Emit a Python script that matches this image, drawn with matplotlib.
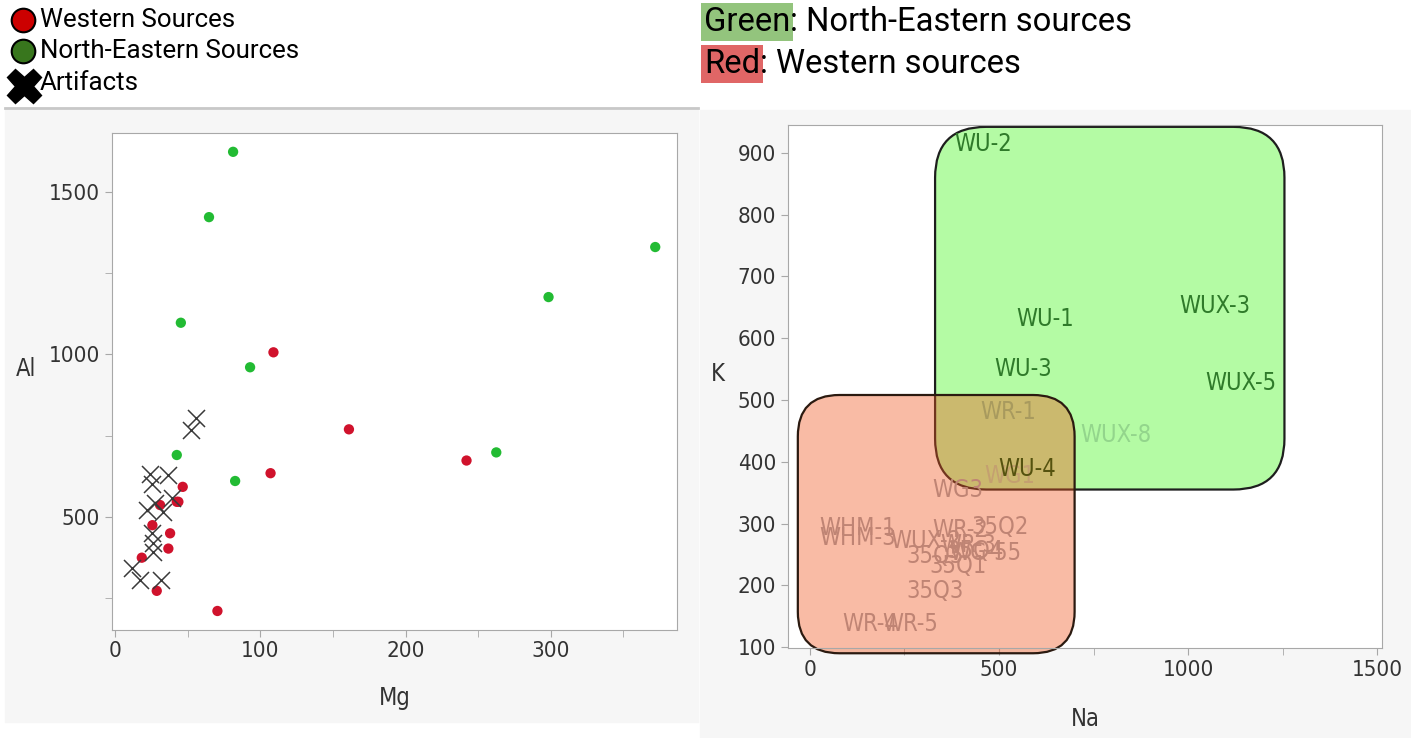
import matplotlib.pyplot as plt
from matplotlib.patches import FancyBboxPatch, Rectangle
from matplotlib.ticker import MultipleLocator

# ---- left panel data: Mg vs Al ----
western_mg = [109, 161, 242, 107, 46.5, 42.4, 43.5, 30.9, 25.6, 37.8, 36.6, 18.3, 28.6, 70.4]
western_al = [1006, 769, 673, 634, 592, 546, 546, 536, 474, 449, 402, 374, 272, 210]
ne_mg = [81.2, 64.6, 372, 298.5, 45.2, 92.9, 42.4, 262.5, 82.6]
ne_al = [1623, 1422, 1330, 1176, 1097, 960, 690, 698, 610]
art_mg = [55.7, 52, 24, 36.6, 25.2, 39, 27.4, 21.7, 33.2, 25.2, 26.3, 26.3, 11.4, 17.1, 31.6]
art_al = [805, 766, 633, 628, 600, 559, 541, 522, 515, 449, 418, 392, 341, 305, 305]

# ---- right panel data: Na vs K labels ----
ne_labels = ['WU-2', 'WU-1', 'WUX-3', 'WU-3', 'WUX-5', 'WUX-8', 'WU-4']
ne_na = [458, 622, 1071, 563, 1140, 810, 574]
ne_k = [915, 631, 652, 550, 528, 444, 389]
ne_colors = ['#2f7a2a', '#2f7a2a', '#2f7a2a', '#2f7a2a', '#2f7a2a', '#93d58c', '#55520f']

w_labels = ['WR-1', 'WG1', 'WG3', 'WHM-1', 'WHM-3', 'WUX-2', 'WR-2', '35Q2', '35Q5',
            'WR-3', '35Q4', 'WG-55', '35Q1', '35Q3', 'WR-4', 'WR-5']
w_na = [524, 529, 392, 127, 127, 307, 397, 503, 331, 418, 437, 463, 392, 331, 159, 265]
w_k = [481, 377, 355, 293, 276, 271, 289, 295, 247, 266, 255, 253, 232, 190, 137, 137]
w_colors = ['#a89a5e', '#c4a070'] + ['#bf8474'] * 14

# source regions (Na, K): x0, y0, x1, y1
ne_region = (331, 355, 1255, 942)
w_region = (-32, 90, 700, 508)

W, H = 1411, 738
fig = plt.figure(figsize=(W / 100, H / 100), dpi=100)

bg = fig.add_axes([0, 0, 1, 1], zorder=0)
bg.set_xlim(0, W)
bg.set_ylim(H, 0)
bg.axis('off')
bg.add_patch(Rectangle((5, 110), 693, 612, color='#f6f6f6'))
bg.add_patch(Rectangle((700, 110), 711, 628, color='#f6f6f6'))
bg.plot([5, 698], [108, 108], color='#c8c8c8', lw=2)

# left legend
bg.plot(23, 20, 'o', ms=17, mfc='#cc0000', mec='black', mew=1.5)
bg.plot(23, 51, 'o', ms=17, mfc='#38761d', mec='black', mew=1.5)
bg.plot(24, 86, 'X', ms=25, color='black')
for y, s in [(20, 'Western Sources'), (51, 'North-Eastern Sources'), (83, 'Artifacts')]:
    bg.text(40, y, s, va='center', ha='left', fontsize=18.6, family='Roboto',
            fontstretch='condensed', color='black')

# right legend
t1 = bg.text(704, 22, 'Green', va='center', ha='left', fontsize=23.6, family='Roboto',
             bbox=dict(facecolor='#93c47d', edgecolor='none', pad=2))
bg.annotate(': North-Eastern sources', xy=(1, 0.5), xycoords=t1, va='center', ha='left',
            fontsize=23.6, family='Roboto')
t2 = bg.text(704, 64, 'Red', va='center', ha='left', fontsize=23.6, family='Roboto',
             bbox=dict(facecolor='#e06666', edgecolor='none', pad=2))
bg.annotate(': Western sources', xy=(1, 0.5), xycoords=t2, va='center', ha='left',
            fontsize=23.6, family='Roboto')

font = dict(family='DejaVu Sans', stretch='condensed')


def style(ax):
    for sp in ax.spines.values():
        sp.set_color('#a8a8a8')
    ax.tick_params(which='both', direction='out', color='#a8a8a8', length=5,
                   labelsize=16, labelcolor='#333333')
    for lab in ax.get_xticklabels() + ax.get_yticklabels():
        lab.set_family(font['family'])
        lab.set_stretch(font['stretch'])


# ---- left scatter ----
axL = fig.add_axes([111.6 / W, 1 - 629.5 / H, (677 - 111.6) / W, (629.5 - 133.3) / H], zorder=2)
axL.set_facecolor('white')
axL.scatter(ne_mg, ne_al, s=55, color='#22bb33', edgecolors='none', zorder=3)
axL.scatter(western_mg, western_al, s=55, color='#d0122c', edgecolors='none', zorder=3)
axL.scatter(art_mg, art_al, s=150, marker='x', color='#3a3a3a', linewidths=1.1, zorder=4)
axL.set_xlim(-2.5, 387)
axL.set_ylim(153, 1680)
axL.set_xticks([0, 100, 200, 300])
axL.set_yticks([500, 1000, 1500])
axL.xaxis.set_minor_locator(MultipleLocator(50))
axL.yaxis.set_minor_locator(MultipleLocator(250))
style(axL)
axL.set_xlabel('Mg', fontsize=17, color='#333333', labelpad=18, **font)
axL.set_ylabel('Al', fontsize=17, color='#333333', rotation=0, labelpad=16, **font)

# ---- right label plot ----
axR = fig.add_axes([788 / W, 1 - 647.7 / H, (1382 - 788) / W, (647.7 - 125) / H], zorder=2)
axR.set_facecolor('white')
axR.set_xlim(-58, 1513)
axR.set_ylim(99, 945)
aspect = 0.61
gx0, gy0, gx1, gy1 = ne_region
axR.add_patch(FancyBboxPatch((gx0, gy0), gx1 - gx0, gy1 - gy0,
                             boxstyle='round,pad=0,rounding_size=135', mutation_aspect=aspect,
                             facecolor='#b4fba4', edgecolor='#1e1e1e', lw=1.6, zorder=1,
                             clip_on=False))
rx0, ry0, rx1, ry1 = w_region
axR.add_patch(FancyBboxPatch((rx0, ry0), rx1 - rx0, ry1 - ry0,
                             boxstyle='round,pad=0,rounding_size=110', mutation_aspect=aspect,
                             facecolor=(240 / 255, 87 / 255, 30 / 255, 0.4), edgecolor='#2b1a10',
                             lw=1.6, zorder=2, clip_on=False))
for s, x, y, c in zip(w_labels, w_na, w_k, w_colors):
    axR.text(x, y, s, ha='center', va='center', fontsize=17, color=c, zorder=3, **font)
for s, x, y, c in zip(ne_labels, ne_na, ne_k, ne_colors):
    axR.text(x, y, s, ha='center', va='center', fontsize=17, color=c, zorder=4, **font)
axR.set_xticks([0, 500, 1000, 1500])
axR.set_yticks(range(100, 1000, 100))
axR.xaxis.set_minor_locator(MultipleLocator(250))
style(axR)
axR.set_xlabel('Na', fontsize=17, color='#333333', labelpad=20, **font)
axR.set_ylabel('K', fontsize=17, color='#333333', rotation=0, labelpad=14, **font)

fig.savefig('out.png', dpi=100)
